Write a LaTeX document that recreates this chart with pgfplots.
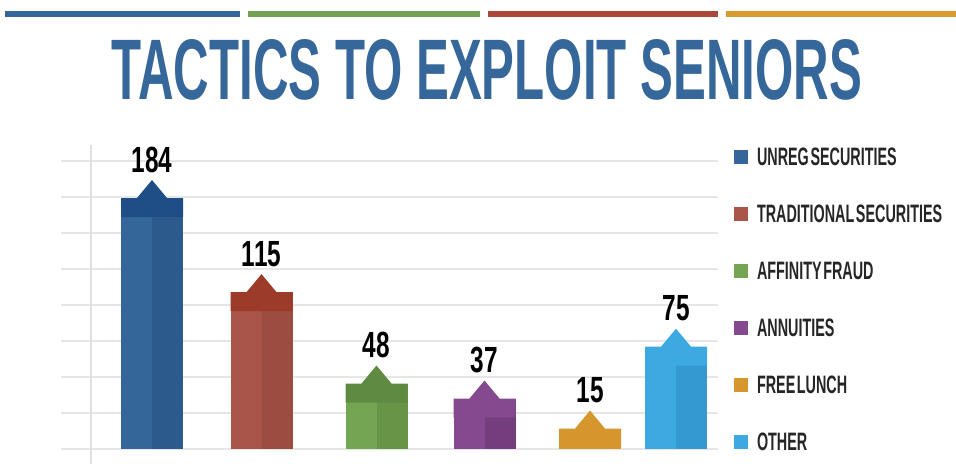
\documentclass[border=0pt]{standalone}
\usepackage{pgfplots}
\pgfplotsset{compat=1.18}
\usepackage{fontspec}
\setmainfont{Liberation Sans}
\newfontfamily\condfont[FakeStretch=0.67]{Liberation Sans}
\newfontfamily\legcondfont[FakeStretch=0.57, WordSpace=0.4]{Liberation Sans}
\usepackage{graphicx}

\definecolor{titleblue}{HTML}{35679A}
\definecolor{lnblue}{HTML}{336699}
\definecolor{lngreen}{HTML}{73A053}
\definecolor{lnred}{HTML}{A8473A}
\definecolor{lnorange}{HTML}{D99A30}
\definecolor{gridc}{HTML}{E6E6E6}
\definecolor{gridv}{HTML}{E0E0E0}
% bars: light (left), dark (right), band (cap)
\definecolor{Lblue}{HTML}{346699}\definecolor{Dblue}{HTML}{2D5A8C}\definecolor{Bblue}{HTML}{1E4E85}
\definecolor{Lred}{HTML}{A9554A}\definecolor{Dred}{HTML}{9A4D40}\definecolor{Bred}{HTML}{9D3B2B}
\definecolor{Lgreen}{HTML}{74A553}\definecolor{Dgreen}{HTML}{689448}\definecolor{Bgreen}{HTML}{5E8B41}
\definecolor{Lpurple}{HTML}{85498F}\definecolor{Dpurple}{HTML}{743D7E}\definecolor{Bpurple}{HTML}{85498F}
\definecolor{Lorange}{HTML}{D6962E}\definecolor{Dorange}{HTML}{D6962E}\definecolor{Borange}{HTML}{D6962E}
\definecolor{Lsky}{HTML}{3CA9E1}\definecolor{Dsky}{HTML}{3399D0}\definecolor{Bsky}{HTML}{3CA9E1}

\pgfdeclareplotmark{cap}{%
  \pgfpathmoveto{\pgfqpoint{-15.5pt}{-9.5pt}}%
  \pgfpathlineto{\pgfqpoint{15.5pt}{-9.5pt}}%
  \pgfpathlineto{\pgfqpoint{15.5pt}{0pt}}%
  \pgfpathlineto{\pgfqpoint{7.5pt}{0pt}}%
  \pgfpathlineto{\pgfqpoint{0pt}{9pt}}%
  \pgfpathlineto{\pgfqpoint{-7.5pt}{0pt}}%
  \pgfpathlineto{\pgfqpoint{-15.5pt}{0pt}}%
  \pgfpathclose
  \pgfusepathqfill}

\newcommand{\labelfont}{\condfont\bfseries\fontsize{18.2}{18.2}\selectfont}
\newcommand{\legfont}{\legcondfont\bfseries\fontsize{12.6}{12.6}\selectfont}

\pgfplotsset{
  lightbar/.style={ybar, bar width=31pt, bar shift=0pt, fill=#1, draw=none,
    legend image code/.code={\fill[#1] (0pt,-3.5pt) rectangle (7pt,3.5pt);}},
  darkbar/.style={ybar, bar width=15.5pt, bar shift=7.75pt, fill=#1, draw=none, forget plot},
  capplot/.style={only marks, mark=cap, mark options={fill=#1, draw=none}, color=#1, forget plot,
    nodes near coords={\pgfmathprintnumber[assume math mode=true]{\pgfplotspointmeta}},
    every node near coord/.append style={anchor=south, yshift=12.5pt, inner sep=0pt, font=\labelfont, text=black}},
}

\begin{document}
\begin{tikzpicture}
\useasboundingbox (0,0) rectangle (478pt,232pt);
% top colour rules
\draw[lnblue, line width=3pt] (2.5pt,224.75pt) -- (120pt,224.75pt);
\draw[lngreen, line width=3pt] (124pt,224.75pt) -- (240pt,224.75pt);
\draw[lnred, line width=3pt] (244pt,224.75pt) -- (359pt,224.75pt);
\draw[lnorange, line width=3pt] (363pt,224.75pt) -- (478pt,224.75pt);
% title
\node[text=titleblue, inner sep=0pt] at (243.5pt,197pt) {\resizebox{375pt}{30pt}{\bfseries TACTICS TO EXPLOIT SENIORS}};

\begin{axis}[
  at={(30.5pt,0pt)}, anchor=south west,
  scale only axis, width=328.5pt, height=159.5pt,
  xmin=61, xmax=718, ymin=-11, ymax=222.9,
  clip=false,
  axis line style={draw=none},
  major tick length=0pt,
  xtick=\empty,
  extra x ticks={91}, extra x tick labels={},
  extra x tick style={grid=major, major grid style={draw=gridv, line width=1pt}},
  ytick={0,26.4,52.8,79.2,105.6,132,158.4,184.8,211.2}, yticklabels={},
  ymajorgrids, major grid style={draw=gridc, line width=1pt},
  legend cell align=left,
  legend style={at={(1.0244,0.9906)}, anchor=north west, draw=none, fill=none,
    inner sep=0pt, outer sep=0pt, row sep=19.5pt, column sep=4.5pt,
    font=\legfont, text=black!85,
    nodes={inner sep=0pt, text height=9pt, text depth=0pt, anchor=west}},
]
% UNREG SECURITIES
\addplot[lightbar=Lblue] coordinates {(152,184)};
\addlegendentry{UNREG SECURITIES}
\addplot[darkbar=Dblue] coordinates {(152,184)};
\addplot[capplot=Bblue] coordinates {(152,184)};
% TRADITIONAL SECURITIES
\addplot[lightbar=Lred] coordinates {(261.5,115)};
\addlegendentry{TRADITIONAL SECURITIES}
\addplot[darkbar=Dred] coordinates {(261.5,115)};
\addplot[capplot=Bred] coordinates {(261.5,115)};
% AFFINITY FRAUD
\addplot[lightbar=Lgreen] coordinates {(376.5,48)};
\addlegendentry{AFFINITY FRAUD}
\addplot[darkbar=Dgreen] coordinates {(376.5,48)};
\addplot[capplot=Bgreen] coordinates {(376.5,48)};
% ANNUITIES
\addplot[lightbar=Lpurple] coordinates {(484.5,37)};
\addlegendentry{ANNUITIES}
\addplot[darkbar=Dpurple] coordinates {(484.5,37)};
\addplot[capplot=Bpurple] coordinates {(484.5,37)};
% FREE LUNCH
\addplot[lightbar=Lorange] coordinates {(590,15)};
\addlegendentry{FREE LUNCH}
\addplot[darkbar=Dorange] coordinates {(590,15)};
\addplot[capplot=Borange] coordinates {(590,15)};
% OTHER
\addplot[lightbar=Lsky] coordinates {(676,75)};
\addlegendentry{OTHER}
\addplot[darkbar=Dsky] coordinates {(676,75)};
\addplot[capplot=Bsky] coordinates {(676,75)};
\end{axis}
\end{tikzpicture}
\end{document}
